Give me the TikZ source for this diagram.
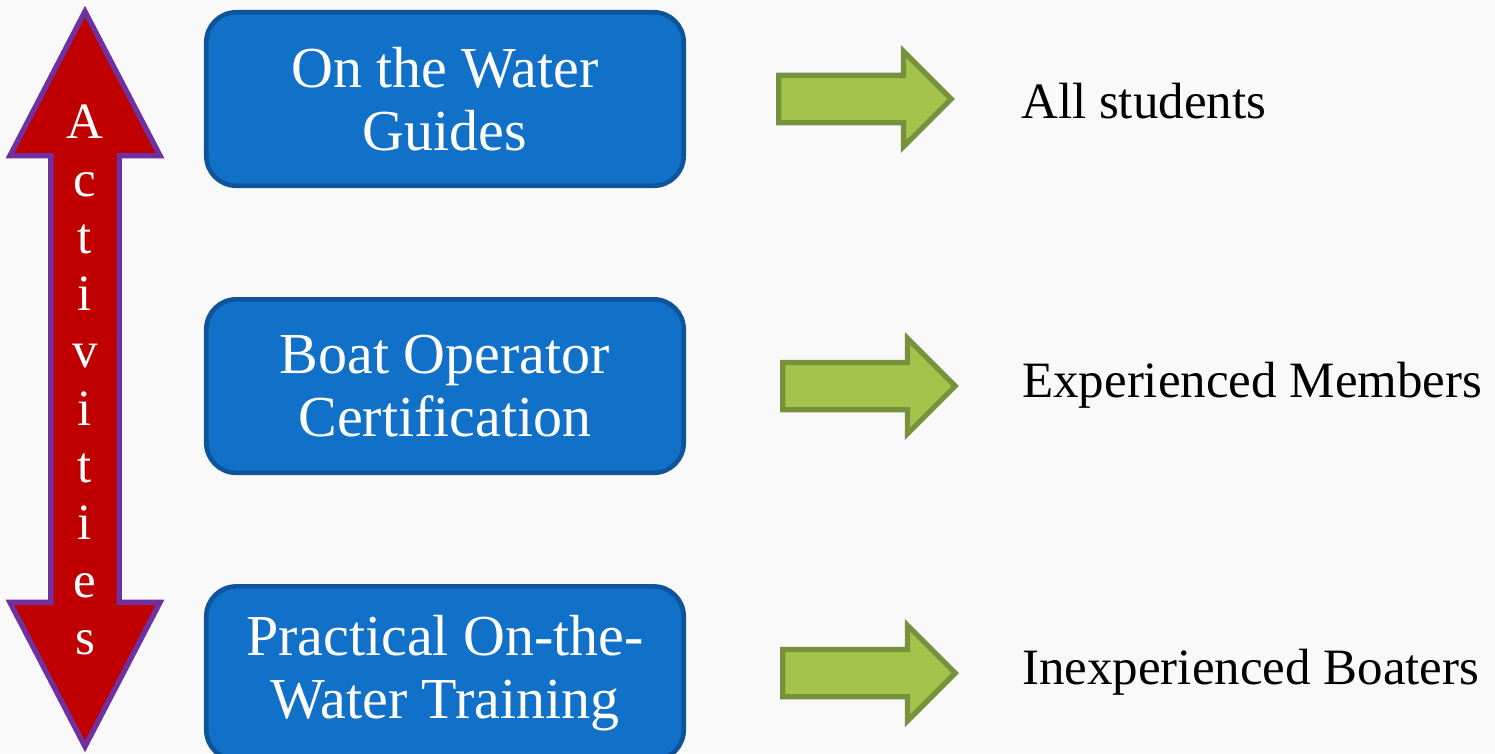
\documentclass[tikz,border=0pt]{standalone}
\usepackage{fontspec}
\setmainfont{Liberation Serif}
\usepackage{xcolor}
\usepackage{tikz}
\usetikzlibrary{shapes, shapes.arrows, positioning}
\definecolor{pagegray}{HTML}{F9F9F9}
\definecolor{boxblue}{HTML}{1170C8}
\definecolor{boxedge}{HTML}{0E549B}
\definecolor{spanred}{HTML}{C00000}
\definecolor{spanedge}{HTML}{7030A0}
\definecolor{leafgreen}{HTML}{A5C24A}
\definecolor{leafedge}{HTML}{76923C}
\tikzset{
    base/.style={font=\fontsize{33}{36}\selectfont, align=center},
    block/.style={base, rectangle, rounded corners=0.6cm, draw=boxedge, line width=2.6pt, fill=boxblue, text=white, minimum width=9.55cm, minimum height=3.47cm},
    pointer/.style={single arrow, draw=leafedge, fill=leafgreen, line width=3pt, minimum height=3.45cm, inner xsep=0pt, inner ysep=0.42cm, single arrow head extend=0.48cm, single arrow tip angle=90},
    span/.style={double arrow, draw=spanedge, fill=spanred, line width=3pt, rotate=90, minimum height=14.7cm, inner xsep=0pt, inner ysep=0.63cm, double arrow head extend=0.82cm, double arrow tip angle=55},
    audience/.style={font=\fontsize{29}{32}\selectfont, inner sep=0pt}
}
\begin{document}
\begin{tikzpicture}
    \useasboundingbox (0,0) rectangle (29.9,-15.06);
    \fill [pagegray] (0,0) rectangle (29.9,-15.06);

    \node [span] (Span) at (1.70,-7.58) {};
    \node [font=\fontsize{29}{32.6}\selectfont, align=center, text=white] (SpanText) at (1.70,-7.6) {A\\c\\t\\i\\v\\i\\t\\i\\e\\s};

    \node [block] (Guides) at (8.9,-1.98) {On the Water\\Guides};
    \node [block, below=2.18cm of Guides] (Cert) {Boat Operator\\Certification};
    \node [block, below=2.18cm of Cert] (Training) {Practical On-the-\\Water Training};

    \node [pointer, right=1.8cm of Guides] (ToAll) {};
    \node [pointer, right=1.88cm of Cert] (ToMembers) {};
    \node [pointer, right=1.88cm of Training] (ToBoaters) {};

    \node [audience, right=1.32cm of ToAll, anchor=base west, yshift=-0.38cm] (All) {All students};
    \node [audience, right=1.26cm of ToMembers, anchor=base west, yshift=-0.22cm] (Members) {Experienced Members};
    \node [audience, right=1.26cm of ToBoaters, anchor=base west, yshift=-0.22cm] (Boaters) {Inexperienced Boaters};
\end{tikzpicture}
\end{document}
